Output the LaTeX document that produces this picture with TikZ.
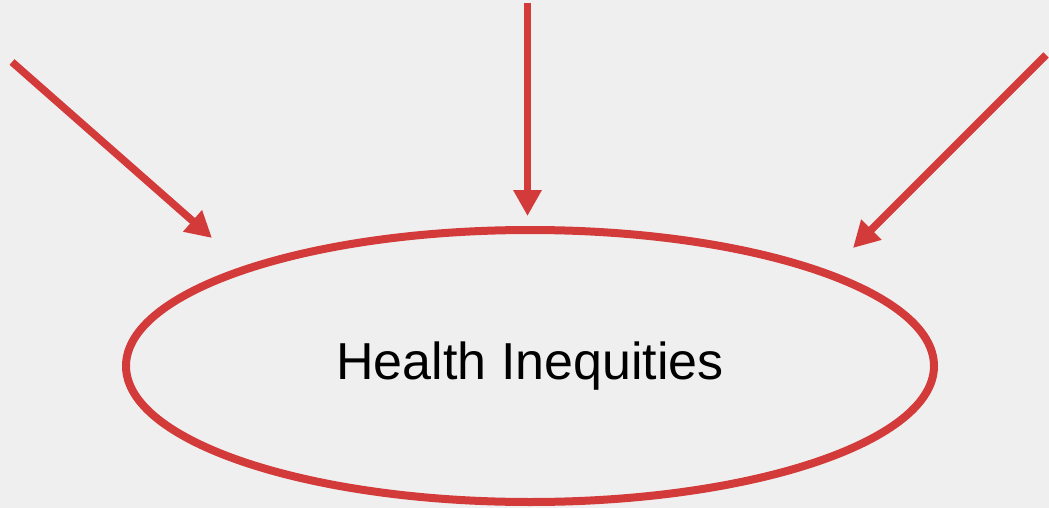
\documentclass[tikz,border=0pt]{standalone}
\usepackage{fontspec}
\setmainfont{Liberation Sans}
\usetikzlibrary{shapes,arrows.meta,positioning}
\definecolor{fondo}{HTML}{EFEFEF}
\definecolor{rojo}{HTML}{D33A3A}
\tikzstyle{causa} = [draw=rojo, line width=7.5pt, -{Triangle[length=26pt,width=27pt]}]
\tikzstyle{efecto} = [draw=rojo, line width=8pt, ellipse, inner sep=0pt, minimum width=808pt, minimum height=272pt, font=\fontsize{52}{60}\selectfont]

\begin{document}
\begin{tikzpicture}[x=1pt,y=-1pt]
	\fill[fondo] (0,0) rectangle (1049,508);
	\useasboundingbox (0,0) rectangle (1049,508);
	\node [efecto] (inequidad) at (530,366) {Health Inequities};
	\coordinate (origenIzq) at (12,62);
	\coordinate (finIzq) at (212,238);
	\coordinate (origenCen) at (527.5,3);
	\coordinate (finCen) at (527.5,216);
	\coordinate (origenDer) at (1046,55);
	\coordinate (finDer) at (853,248);
	\draw [causa] (origenIzq) -- (finIzq);
	\draw [causa] (origenCen) -- (finCen);
	\draw [causa] (origenDer) -- (finDer);
\end{tikzpicture}
\end{document}
